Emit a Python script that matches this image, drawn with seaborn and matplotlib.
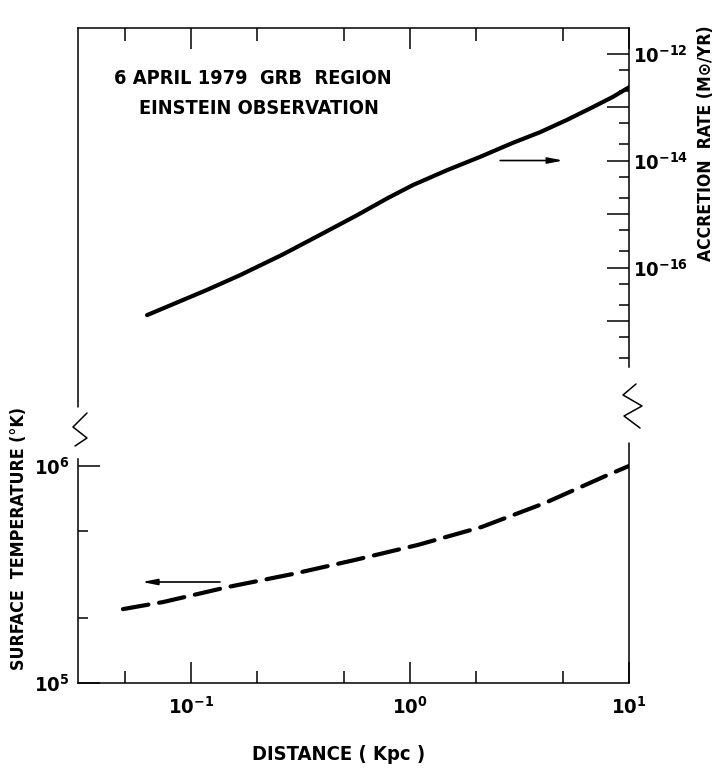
"""
6 April 1979 GRB region - Einstein observation
surface temperature / accretion rate vs distance
"""
import matplotlib
matplotlib.use("Agg")
import matplotlib.pyplot as plt
import matplotlib.ticker as mticker
import seaborn as sns
import pandas as pd

# accretion rate curve (right axis, solid)
acc_distance = [0.063, 0.118, 0.1675, 0.263, 0.388, 0.573, 0.794, 1.03, 1.476,
                2.09, 2.95, 3.93, 5.21, 6.85, 8.45, 10.0]
acc_rate = [1.29e-17, 3.8e-17, 7.2e-17, 1.76e-16, 4.07e-16, 9.5e-16, 2.0e-15,
            3.47e-15, 6.6e-15, 1.17e-14, 2.14e-14, 3.39e-14, 5.75e-14, 1.0e-13,
            1.55e-13, 2.34e-13]

# surface temperature curve (left axis, dashed)
temp_distance = [0.0489, 0.0745, 0.1476, 0.292, 0.561, 1.089, 2.13, 4.13, 8.02, 10.0]
temp_kelvin = [2.19e5, 2.36e5, 2.77e5, 3.18e5, 3.69e5, 4.33e5, 5.24e5, 6.75e5, 9.1e5, 1.0e6]

x_major = [0.1, 1.0, 10.0]
x_minor = [0.05, 0.2, 0.5, 2.0, 5.0]
x_labels = [r"$\mathregular{10^{-1}}$", r"$\mathregular{10^{0}}$", r"$\mathregular{10^{1}}$"]

temp_major = [1e5, 1e6]
temp_minor = [2e5, 5e5]
temp_labels = [r"$\mathregular{10^{5}}$", r"$\mathregular{10^{6}}$"]

rate_major = [1e-12, 1e-13, 1e-14, 1e-15, 1e-16, 1e-17]
rate_minor = [5e-13, 2e-13, 5e-14, 2e-14, 5e-15, 2e-15, 5e-16, 2e-16, 5e-17, 2e-17, 5e-18, 2e-18]
rate_labels = [r"$\mathregular{10^{-12}}$", "", r"$\mathregular{10^{-14}}$", "",
               r"$\mathregular{10^{-16}}$", ""]

sns.set_style("white")
plt.rcParams["font.family"] = ["DejaVu Sans"]
plt.rcParams["font.stretch"] = "condensed"
plt.rcParams["font.weight"] = "bold"
plt.rcParams["mathtext.fontset"] = "custom"
plt.rcParams["mathtext.rm"] = "DejaVu Sans:bold:stretch=condensed"
plt.rcParams["mathtext.it"] = "DejaVu Sans:bold:stretch=condensed"
plt.rcParams["mathtext.bf"] = "DejaVu Sans:bold:stretch=condensed"
for key in ("text.color", "axes.labelcolor", "xtick.color", "ytick.color", "axes.edgecolor"):
    plt.rcParams[key] = "black"

W, H = 716, 768
L, R, T, B = 78, 629, 28, 683  # axes box in pixels


def fx(px):
    return (px - L) / (R - L)


def fy(py):
    return (B - py) / (B - T)


fig = plt.figure(figsize=(W / 100, H / 100), dpi=100)
ax = fig.add_axes([L / W, 1 - B / H, (R - L) / W, (B - T) / H])
ax2 = ax.twinx()

for a in (ax, ax2):
    a.set_xscale("log")
    a.set_yscale("log")
    a.set_facecolor("none")

acc_df = pd.DataFrame({"distance": acc_distance, "rate": acc_rate})
temp_df = pd.DataFrame({"distance": temp_distance, "temperature": temp_kelvin})

sns.lineplot(data=acc_df, x="distance", y="rate", ax=ax2, color="black",
             lw=3.0, sort=False, solid_capstyle="round", solid_joinstyle="round")
sns.lineplot(data=temp_df, x="distance", y="temperature", ax=ax, color="black",
             lw=3.0, sort=False, linestyle=(0, (6.2, 2.6)), dash_capstyle="round")
ax.set_xlim(10 ** -1.516, 10)
ax.set_ylim(1e5, 10 ** 8.018)
ax2.set_ylim(10 ** -23.766, 10 ** -11.523)
ax.set_xlabel("")
ax.set_ylabel("")
ax2.set_ylabel("")

# ticks
ax.xaxis.set_major_locator(mticker.FixedLocator(x_major))
ax.xaxis.set_minor_locator(mticker.FixedLocator(x_minor))
ax.xaxis.set_major_formatter(mticker.FixedFormatter(x_labels))
ax.xaxis.set_minor_formatter(mticker.NullFormatter())
ax.yaxis.set_major_locator(mticker.FixedLocator(temp_major))
ax.yaxis.set_minor_locator(mticker.FixedLocator(temp_minor))
ax.yaxis.set_major_formatter(mticker.FixedFormatter(temp_labels))
ax.yaxis.set_minor_formatter(mticker.NullFormatter())
ax2.yaxis.set_major_locator(mticker.FixedLocator(rate_major))
ax2.yaxis.set_minor_locator(mticker.FixedLocator(rate_minor))
ax2.yaxis.set_major_formatter(mticker.FixedFormatter(rate_labels))
ax2.yaxis.set_minor_formatter(mticker.NullFormatter())

ax.tick_params(axis="x", which="both", direction="in", top=True, bottom=True,
               width=1.1, labelsize=14.5, pad=9)
ax.tick_params(axis="x", which="major", length=15)
ax.tick_params(axis="x", which="minor", length=9)
ax.tick_params(axis="y", which="both", direction="in", left=True, right=False,
               width=1.1, labelsize=14.5, pad=6)
ax.tick_params(axis="y", which="major", length=16)
ax.tick_params(axis="y", which="minor", length=7)
ax2.tick_params(axis="y", which="both", direction="in", right=True, left=False,
                width=1.1, labelsize=14.5, pad=3)
ax2.tick_params(axis="y", which="major", length=16)
ax2.tick_params(axis="y", which="minor", length=7)

# spines with breaks
for s in ("top", "bottom", "left", "right"):
    ax.spines[s].set_linewidth(1.1)
    ax2.spines[s].set_linewidth(1.1)
ax.spines["right"].set_visible(False)
for s in ("top", "bottom", "left"):
    ax2.spines[s].set_visible(False)
ax.spines["left"].set_bounds(1e5, 10 ** (5 + (B - 459) / 217))
ax2.spines["right"].set_bounds(10 ** (-12 - (367 - 53.5) / 53.5), 10 ** -11.523)

brk = dict(transform=ax.transAxes, clip_on=False, color="black", lw=1.1)
ax.plot([0, 0], [fy(407), 1], **brk)
ax.plot([1, 1], [0, fy(443)], **brk)
ax.plot([fx(87), fx(73), fx(87), fx(75)], [fy(413), fy(427), fy(438), fy(446)], **brk)
ax.plot([fx(636), fx(623), fx(642), fx(624), fx(640)],
        [fy(384), fy(395), fy(406), fy(416), fy(428)], **brk)

# direction arrows
arrow = dict(arrowstyle="-|>,head_length=0.9,head_width=0.18", color="black",
             lw=1.2, shrinkA=0, shrinkB=0)
ax2.annotate("", xy=(5.0, 1e-14), xytext=(2.58, 1e-14), arrowprops=arrow)
ax.annotate("", xy=(0.0598, 2.92e5), xytext=(0.1356, 2.92e5), arrowprops=arrow)

# annotation text
ax.text(fx(253), fy(78), "6 APRIL 1979  GRB  REGION", transform=ax.transAxes,
        ha="center", va="center", fontsize=14.3)
ax.text(fx(259), fy(108), "EINSTEIN OBSERVATION", transform=ax.transAxes,
        ha="center", va="center", fontsize=14.3)

fig.text(19 / W, 1 - 538 / H, "SURFACE  TEMPERATURE (\u00b0K)", rotation=90,
         ha="center", va="center", fontsize=12.8)
fig.text(706 / W, 1 - 143 / H, "ACCRETION  RATE (M\u2299/YR)", rotation=90,
         ha="center", va="center", fontsize=12.6)
fig.text(339 / W, 1 - 755 / H, "DISTANCE ( Kpc )", ha="center", va="center",
         fontsize=14.5)

fig.savefig("out.png", dpi=100, facecolor="white")
